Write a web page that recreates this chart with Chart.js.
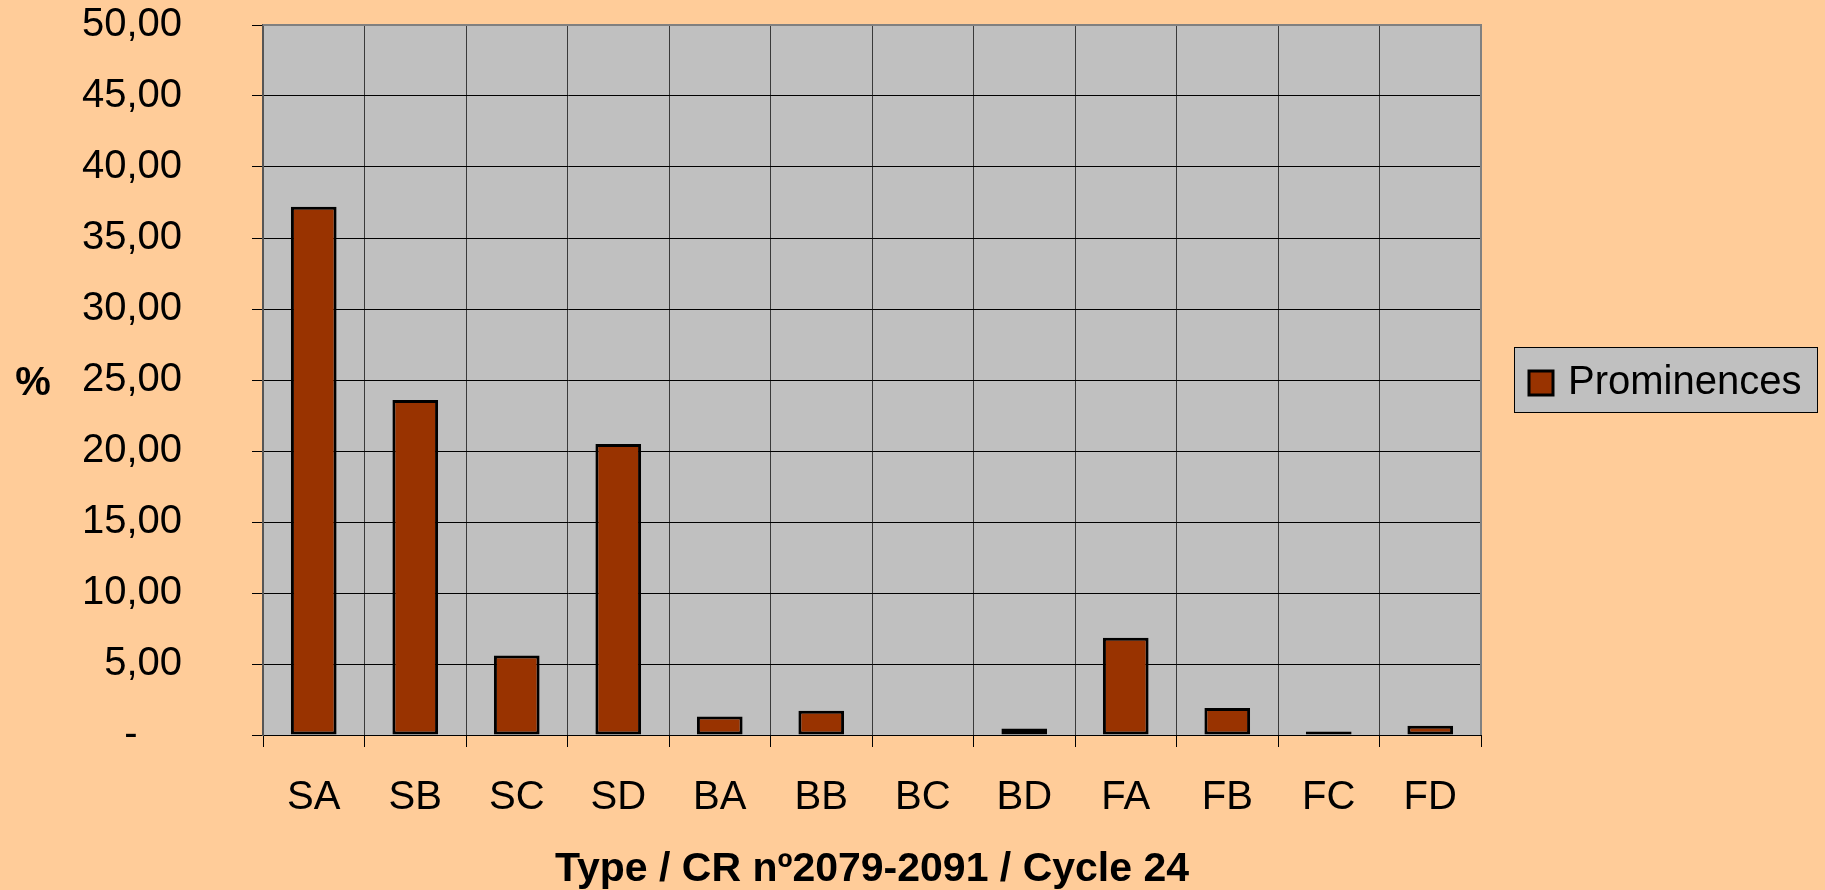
<!DOCTYPE html>
<html>
<head>
<meta charset="utf-8">
<script src="https://cdn.jsdelivr.net/npm/chart.js@4/dist/chart.umd.min.js"></script>
<style>
  html, body { margin: 0; padding: 0; background: #ffcc99; }
  #wrap { width: 1825px; height: 890px; }
</style>
</head>
<body>
<div id="wrap"><canvas id="myChart" width="1825" height="890"></canvas></div>
<script>
const categories = ["SA", "SB", "SC", "SD", "BA", "BB", "BC", "BD", "FA", "FB", "FC", "FD"];
const prominences = [37.2, 23.6, 5.6, 20.5, 1.3, 1.7, 0, 0.45, 6.85, 1.9, 0.25, 0.65];
const yTickLabels = ["-\u2007\u2007", "5,00", "10,00", "15,00", "20,00", "25,00", "30,00", "35,00", "40,00", "45,00", "50,00"];
const seriesLabel = "Prominences";
const xTitle = "Type / CR nº2079-2091 / Cycle 24";
const yTitle = "%";

const font = "'Liberation Sans', Arial, sans-serif";

// plot background, frame, % label and the boxed legend
const decor = {
  id: "decor",
  beforeDraw(chart) {
    const { ctx, chartArea: a } = chart;
    ctx.save();
    ctx.fillStyle = "#c0c0c0";
    ctx.fillRect(a.left, a.top, a.right - a.left, a.bottom - a.top);
    ctx.restore();
  },
  afterDraw(chart) {
    const { ctx, chartArea: a } = chart;
    ctx.save();
    // top and right frame
    ctx.strokeStyle = "#808080";
    ctx.lineWidth = 2;
    ctx.beginPath();
    ctx.moveTo(a.left, a.top);
    ctx.lineTo(a.right, a.top);
    ctx.lineTo(a.right, a.bottom);
    ctx.stroke();

    // % label
    ctx.fillStyle = "#000";
    ctx.font = "bold 40px " + font;
    ctx.textAlign = "center";
    ctx.textBaseline = "middle";
    ctx.fillText(yTitle, 33, 384);

    // legend
    const ds = chart.data.datasets[0];
    ctx.fillStyle = "#c0c0c0";
    ctx.fillRect(1514, 347, 303, 65);
    ctx.strokeStyle = "#000";
    ctx.lineWidth = 1;
    ctx.strokeRect(1514.5, 347.5, 303, 65);
    ctx.fillStyle = ds.backgroundColor;
    ctx.fillRect(1529, 371, 24, 24);
    ctx.lineWidth = 3;
    ctx.strokeRect(1529, 371, 24, 24);
    ctx.fillStyle = "#000";
    ctx.font = "40px " + font;
    ctx.textAlign = "left";
    ctx.textBaseline = "middle";
    ctx.fillText(ds.label, 1568, 383);
    ctx.restore();
  }
};

new Chart(document.getElementById("myChart"), {
  type: "bar",
  data: {
    labels: categories,
    datasets: [
      {
        label: seriesLabel,
        data: prominences,
        backgroundColor: "#993300",
        borderColor: "#000000",
        borderWidth: 3,
        borderSkipped: false,
        barPercentage: 0.45,
        categoryPercentage: 1
      }
    ]
  },
  options: {
    responsive: false,
    animation: false,
    layout: { padding: { left: 0, top: 25, right: 344, bottom: 0 } },
    plugins: {
      legend: { display: false },
      tooltip: { enabled: false }
    },
    scales: {
      x: {
        grid: { color: "#3a3a3a", lineWidth: 1, tickLength: 12, offset: true, tickColor: "#000" },
        border: { color: "#000", width: 1 },
        ticks: { color: "#000", font: { family: font, size: 40 }, padding: 27, maxRotation: 0 },
        title: {
          display: true,
          text: xTitle,
          color: "#000",
          font: { family: font, size: 41, weight: "bold" },
          padding: { top: 0, bottom: -4 }
        },
        afterFit: (s) => { s.height = 155; }
      },
      y: {
        min: 0,
        max: 50,
        grid: { color: "#000", lineWidth: 1, tickLength: 11, tickColor: "#000" },
        border: { color: "#555", width: 2 },
        ticks: {
          stepSize: 5,
          color: "#000",
          padding: 70,
          font: { family: font, size: 40 },
          callback: (v, i) => yTickLabels[i]
        },
        afterFit: (s) => {
          s.width = 263;
          s.paddingTop = 0;
          s.paddingBottom = 0;
        }
      }
    }
  },
  plugins: [decor]
});
</script>
</body>
</html>
